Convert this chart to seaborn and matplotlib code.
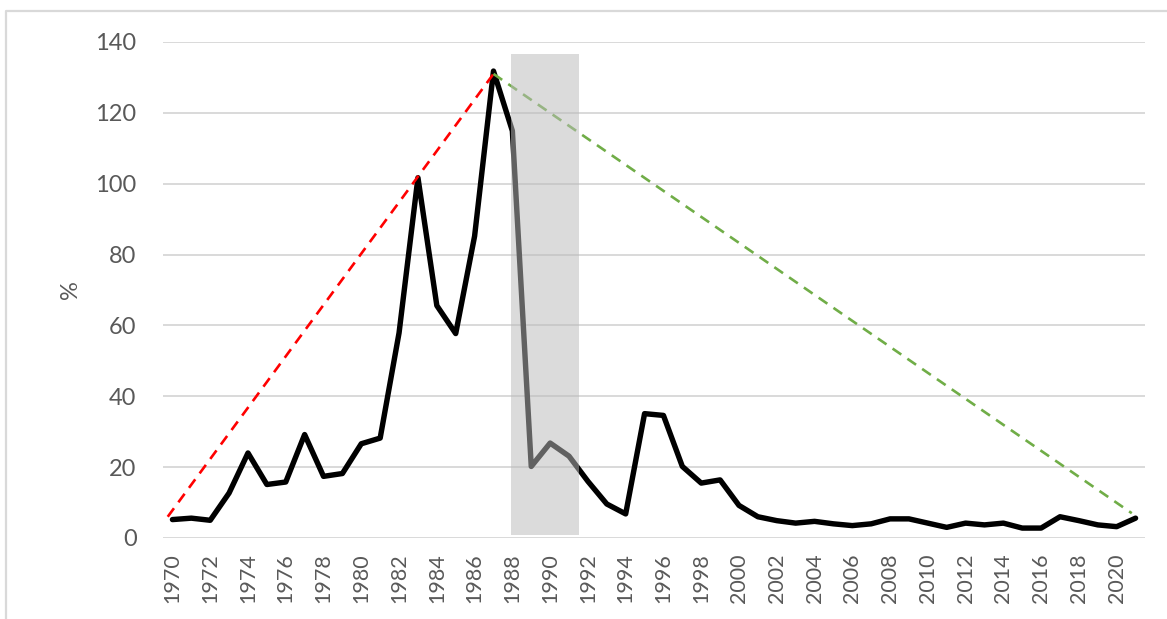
import matplotlib
matplotlib.use("Agg")
import matplotlib.pyplot as plt
from matplotlib.lines import Line2D
import seaborn as sns
import pandas as pd

# data
years = list(range(1970, 2022))
values = [
    5.2, 5.6, 5.0, 12.7, 24.0, 15.1, 15.8, 29.2, 17.4, 18.2,
    26.6, 28.2, 57.9, 101.7, 65.6, 57.7, 85.2, 131.8, 114.9, 20.2,
    26.8, 23.1, 16.0, 9.6, 6.8, 35.1, 34.6, 20.2, 15.5, 16.4,
    9.2, 6.0, 4.9, 4.2, 4.7, 4.0, 3.5, 4.0, 5.4, 5.4,
    4.2, 3.0, 4.2, 3.7, 4.2, 2.8, 2.8, 6.0, 4.9, 3.7,
    3.2, 5.6,
]
rise_x = [1969.75, 1987]
rise_y = [6.0, 131.0]
fall_x = [1987, 2020.8]
fall_y = [131.0, 7.0]
band_x = [1987.93, 1991.55]
band_bottom = 0.9
band_top = 136.5
ytick_vals = [0, 20, 40, 60, 80, 100, 120, 140]
xtick_vals = list(range(1970, 2021, 2))

df = pd.DataFrame({"year": years, "value": values})

sns.set_style("white")
plt.rcParams["font.family"] = ["Lato", "DejaVu Sans"]

W, H = 1167, 619
fig = plt.figure(figsize=(W / 100, H / 100), dpi=100)
ax = fig.add_axes([163 / W, 81 / H, (1145 - 163) / W, (538 - 42) / H])

grid_c = "#D9D9D9"
text_c = "#595959"

for v in ytick_vals:
    ax.axhline(v, color=grid_c, lw=1.4, zorder=1)

sns.lineplot(data=df, x="year", y="value", ax=ax, color="black", lw=3.9,
             zorder=3, clip_on=False, solid_joinstyle="round")
ax.plot(rise_x, rise_y, color="#FF0000", lw=1.9, ls=(0, (4, 2.8)), zorder=4,
        clip_on=False)
ax.plot(fall_x, fall_y, color="#70AD47", lw=1.9, ls=(0, (4, 2.8)), zorder=4,
        clip_on=False)

# shaded period drawn over the line
ax.fill_between(band_x, band_bottom, band_top, color="#BBBBBB", alpha=0.52,
                lw=0, zorder=5)

ax.set_xlim(1969.5, 2021.5)
ax.set_ylim(0, 140)
ax.set_yticks(ytick_vals)
ax.set_xticks(xtick_vals)
ax.set_xticklabels([str(y) for y in xtick_vals], rotation=90)
ax.tick_params(axis="y", length=0, pad=19, labelsize=17, labelcolor=text_c)
ax.tick_params(axis="x", length=0, pad=11, labelsize=15.5, labelcolor=text_c)
ax.set_xlabel("")
ax.set_ylabel("%", fontsize=17, color=text_c, labelpad=10)
for s in ax.spines.values():
    s.set_visible(False)

# chart frame (left and top edges visible)
fig.add_artist(Line2D([6 / W, 6 / W, 1.0], [0.0, 1 - 11 / H, 1 - 11 / H],
                      transform=fig.transFigure, color=grid_c, lw=1.6))

fig.savefig("out.png", dpi=100)
